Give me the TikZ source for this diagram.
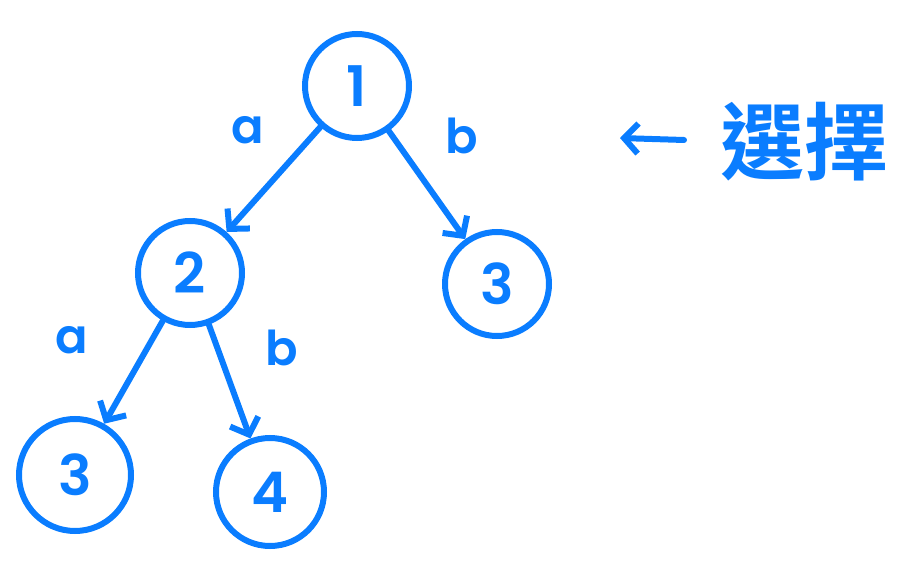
\documentclass[tikz,border=0pt]{standalone}
\usepackage{fontspec}
\setmainfont{Poppins}[UprightFont=* SemiBold]
\newfontfamily\cjk{Noto Sans CJK TC}[UprightFont=* Bold]
\usetikzlibrary{arrows.meta}
\definecolor{pen}{HTML}{0A7DFF}
\begin{document}
\begin{tikzpicture}[x=1pt,y=-1pt,
  state/.style={circle,draw=pen,line width=6pt,text=pen,inner sep=0pt,font=\fontsize{56}{56}\selectfont},
  edge/.style={draw=pen,line width=6pt,line cap=round,-{Straight Barb[length=14pt,width=30pt,line width=6pt]}},
  lab/.style={text=pen,font=\fontsize{48}{48}\selectfont}]
\useasboundingbox (0,0) rectangle (908,588);
\node[state,minimum size=104pt] (n1) at (357,86) {1};
\node[state,minimum size=104pt] (n2) at (190,273) {2};
\node[state,minimum size=104pt] (n3r) at (497,284) {3};
\node[state,minimum size=112pt] (n3l) at (75,475) {3};
\node[state,minimum size=108pt] (n4) at (270,492) {4};
\draw[edge] (n1) -- (n2);
\draw[edge] (n1) -- (n3r);
\draw[edge] (n2) -- (n3l);
\draw[edge] (n2) -- (n4);
\node[lab] (la1) at (248,130) {a};
\node[lab] (lb1) at (462,136) {b};
\node[lab] (la2) at (72,340) {a};
\node[lab] (lb2) at (282,348) {b};
\coordinate (arS) at (684,140);
\coordinate (arE) at (620,138);
\draw[edge] (arS) -- (arE);
\node[text=pen,font=\cjk\fontsize{84}{84}\selectfont,inner sep=0pt] (sel) at (804,142) {選擇};
\end{tikzpicture}
\end{document}
